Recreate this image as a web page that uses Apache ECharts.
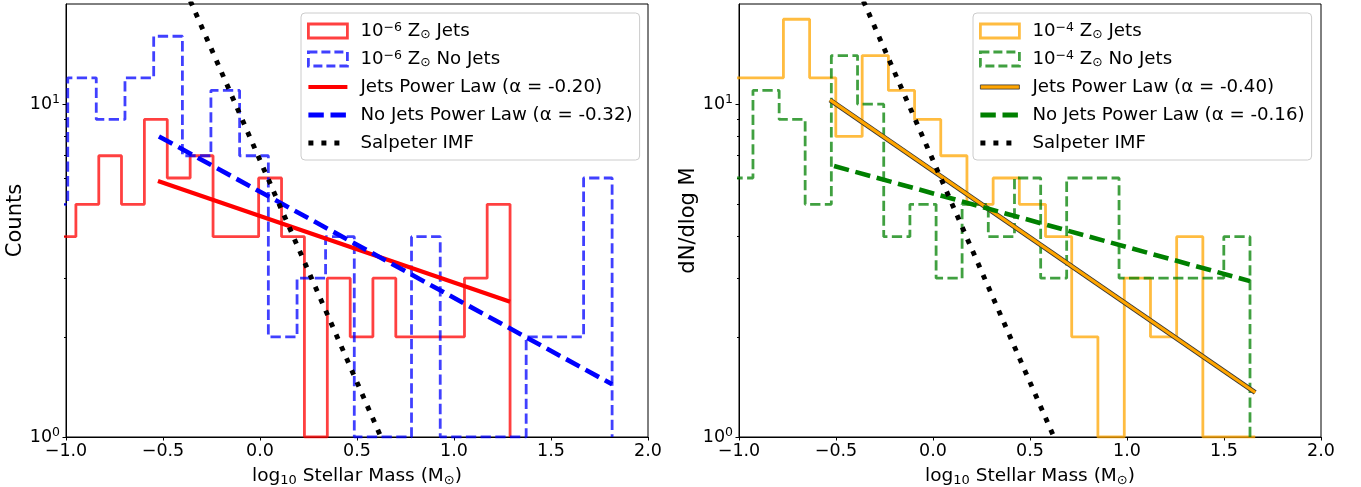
<!DOCTYPE html>
<html>
<head>
<meta charset="utf-8">
<script src="https://cdn.jsdelivr.net/npm/echarts@6/dist/echarts.min.js"></script>
<style>
html, body { margin: 0; padding: 0; background: #fff; }
#chart { width: 1361px; height: 487px; }
</style>
</head>
<body>
<div id="chart"></div>
<script>
// histogram bin edges (log10 M) and counts
const jets6Edges = [-1.067, -0.949, -0.831, -0.714, -0.596, -0.478, -0.360, -0.242, -0.124, -0.007, 0.111,
    0.229, 0.347, 0.465, 0.582, 0.700, 0.818, 0.936, 1.054, 1.171, 1.289];
const jets6Counts = [4, 5, 7, 5, 9, 6, 7, 4, 4, 6, 4, 0, 3, 2, 3, 2, 2, 2, 3, 5];
const noJets6Edges = [-1.139, -0.991, -0.844, -0.696, -0.548, -0.400, -0.253, -0.105, 0.043, 0.191, 0.338,
    0.486, 0.634, 0.781, 0.929, 1.077, 1.225, 1.372, 1.520, 1.668, 1.815];
const noJets6Counts = [5, 12, 9, 12, 16, 7, 11, 7, 2, 3, 4, 0, 0, 4, 0, 0, 0, 2, 2, 6];
const jets4Edges = [-1.041, -0.906, -0.771, -0.636, -0.501, -0.365, -0.230, -0.095, 0.040, 0.175, 0.310,
    0.445, 0.580, 0.715, 0.850, 0.986, 1.121, 1.256, 1.391, 1.526, 1.661];
const jets4Counts = [12, 12, 18, 12, 8, 14, 11, 9, 7, 5, 6, 5, 4, 2, 0, 3, 2, 4, 0, 0];
const noJets4Edges = [-1.063, -0.928, -0.793, -0.659, -0.524, -0.389, -0.254, -0.119, 0.016, 0.150, 0.285,
    0.420, 0.555, 0.689, 0.824, 0.959, 1.094, 1.229, 1.364, 1.499, 1.634];
const noJets4Counts = [6, 11, 9, 5, 14, 10, 4, 5, 3, 5, 4, 6, 3, 6, 6, 3, 3, 3, 3, 4];

// power law fits (end points) and Salpeter reference line
const jets6FitX = [-0.526, 1.289];
const jets6FitY = [5.88, 2.55];
const noJets6FitX = [-0.521, 1.815];
const noJets6FitY = [8.0, 1.44];
const jets4FitX = [-0.531, 1.661];
const jets4FitY = [10.3, 1.36];
const noJets4FitX = [-0.510, 1.634];
const noJets4FitY = [6.52, 2.94];
const salpeterX = [-0.52, 0.70];
const salpeterY = [33.5, 0.79];

const yMajor = [1, 10];
const yMinor = [2, 3, 4, 5, 6, 7, 8, 9];

const FONT = 'DejaVu Sans';
const yMin = 1;

// step outline like matplotlib histtype='step'; empty bins sit on the bottom edge
function outline(edges, counts) {
    let pts = [[edges[0], yMin]];
    counts.forEach(function (c, i) {
        let v = c > 0 ? c : yMin;
        pts.push([edges[i], v]);
        pts.push([edges[i + 1], v]);
    });
    pts.push([edges[edges.length - 1], yMin]);
    return pts;
}

function zip(xs, ys) {
    return xs.map(function (x, i) { return [x, ys[i]]; });
}

function lineSeries(name, data, gi, color, width, type, z) {
    return {
        type: 'line',
        name: name,
        xAxisIndex: gi,
        yAxisIndex: gi * 2,
        data: data,
        symbol: 'none',
        clip: true,
        silent: true,
        z: z,
        itemStyle: { color: color },
        lineStyle: { color: color, width: width, type: type, cap: 'butt' }
    };
}

let chart = echarts.init(document.getElementById('chart'));

const names = {
    j6: '10^-6 Zsun Jets', n6: '10^-6 Zsun No Jets',
    j6f: 'Jets Power Law (α = -0.20)', n6f: 'No Jets Power Law (α = -0.32)',
    j4: '10^-4 Zsun Jets', n4: '10^-4 Zsun No Jets',
    j4f: 'Jets Power Law (α = -0.40)', n4f: 'No Jets Power Law (α = -0.16)',
    sal: 'Salpeter IMF'
};
const richLabels = {};
richLabels[names.j6] = '10{sup|−6} Z{sub|⊙} Jets';
richLabels[names.n6] = '10{sup|−6} Z{sub|⊙} No Jets';
richLabels[names.j4] = '10{sup|−4} Z{sub|⊙} Jets';
richLabels[names.n4] = '10{sup|−4} Z{sub|⊙} No Jets';

const solidIcon = 'path://M0,0H39V4.2H0Z';
const dashIcon = 'path://M0,0H15.4V5H0Z M22.1,0H37.5V5H22.1Z M38.9,2.4H39V2.6H38.9Z';
const dotIcon = 'path://M0,0H5V5H0Z M13,0H18V5H13Z M26,0H31V5H26Z M38.9,2.4H39V2.6H38.9Z';

function legendFor(left, hist1, hist2, fit1, fit2, c1, c2, f1, f2, f1Border) {
    return {
        orient: 'vertical',
        left: left,
        top: 13,
        padding: [8, 7, 7, 6],
        itemGap: 8,
        itemWidth: 39,
        itemHeight: 14,
        backgroundColor: 'rgba(255,255,255,0.8)',
        borderColor: '#cccccc',
        borderWidth: 1,
        borderRadius: 4,
        selectedMode: false,
        formatter: function (n) { return richLabels[n] || n; },
        textStyle: {
            fontFamily: FONT, fontSize: 18.2, color: '#000', lineHeight: 20, padding: [0, 0, 0, 8],
            rich: {
                sup: { fontFamily: FONT, fontSize: 12.5, lineHeight: 11, verticalAlign: 'top', color: '#000' },
                sub: { fontFamily: FONT, fontSize: 12.5, lineHeight: 11, verticalAlign: 'bottom', color: '#000' }
            }
        },
        data: [
            { name: hist1, icon: 'rect', itemStyle: { color: 'rgba(255,255,255,0)', borderColor: c1, borderWidth: 2.8 } },
            { name: hist2, icon: 'rect', itemStyle: { color: 'rgba(255,255,255,0)', borderColor: c2, borderWidth: 2.8, borderType: [9, 4] } },
            { name: fit1, icon: solidIcon, itemStyle: { color: f1, borderColor: f1Border || f1, borderWidth: f1Border ? 0.8 : 0 } },
            { name: fit2, icon: dashIcon, itemStyle: { color: f2, borderWidth: 0 } },
            { name: names.sal, icon: dotIcon, itemStyle: { color: '#000', borderWidth: 0 } }
        ]
    };
}

function xAxisFor(gi) {
    return {
        type: 'value',
        gridIndex: gi,
        min: -1,
        max: 2,
        interval: 0.5,
        name: 'log{sub|10} Stellar Mass (M{sub|⊙})',
        nameLocation: 'middle',
        nameGap: 22,
        nameTextStyle: {
            fontFamily: FONT, fontSize: 18.5, color: '#000', lineHeight: 22,
            rich: { sub: { fontFamily: FONT, fontSize: 13, lineHeight: 12, verticalAlign: 'bottom', color: '#000' } }
        },
        axisLine: { show: true, onZero: false, lineStyle: { color: '#000', width: 1 } },
        axisTick: { show: true, length: 3.5, lineStyle: { color: '#000', width: 1 } },
        axisLabel: {
            fontFamily: FONT, fontSize: 17.5, color: '#000', margin: 5,
            formatter: function (v) { return (v < 0 ? '−' : '') + Math.abs(v).toFixed(1); }
        },
        splitLine: { show: false }
    };
}

function yAxesFor(gi, name, nameGap) {
    return [{
        type: 'log',
        logBase: 10,
        gridIndex: gi,
        min: yMin,
        max: 20,
        position: 'left',
        name: name,
        nameLocation: 'middle',
        nameRotate: 90,
        nameGap: nameGap,
        nameTextStyle: { fontFamily: FONT, fontSize: 21, color: '#000' },
        axisLine: { show: true, onZero: false, lineStyle: { color: '#000', width: 1 } },
        axisTick: { show: true, length: 3.5, customValues: yMajor, lineStyle: { color: '#000', width: 1 } },
        axisLabel: {
            customValues: yMajor,
            fontFamily: FONT, fontSize: 17.5, color: '#000', margin: 6, lineHeight: 22,
            formatter: function (v) { return '10{sup|' + Math.round(Math.log10(v)) + '}'; },
            rich: { sup: { fontFamily: FONT, fontSize: 12.5, lineHeight: 12, verticalAlign: 'top', color: '#000' } }
        },
        splitLine: { show: false }
    }, {
        type: 'log',
        logBase: 10,
        gridIndex: gi,
        min: yMin,
        max: 20,
        position: 'left',
        offset: 0,
        axisLine: { show: false, onZero: false },
        axisTick: { show: true, length: 2, customValues: yMinor, lineStyle: { color: '#000', width: 1 } },
        axisLabel: { show: false },
        splitLine: { show: false }
    }];
}

let option = {
    animation: false,
    backgroundColor: '#fff',
    textStyle: { fontFamily: FONT },
    grid: [
        { left: 66, top: 4, width: 582, height: 433, show: true, borderColor: '#000', borderWidth: 1, backgroundColor: 'transparent', containLabel: false, outerBoundsMode: 'none' },
        { left: 739, top: 4, width: 582, height: 433, show: true, borderColor: '#000', borderWidth: 1, backgroundColor: 'transparent', containLabel: false, outerBoundsMode: 'none' }
    ],
    legend: [
        legendFor(301, names.j6, names.n6, names.j6f, names.n6f,
            'rgba(255,0,0,0.75)', 'rgba(0,0,255,0.75)', '#ff0000', '#0000ff'),
        legendFor(973, names.j4, names.n4, names.j4f, names.n4f,
            'rgba(255,165,0,0.75)', 'rgba(0,128,0,0.75)', '#ffa500', '#008000', '#333')
    ],
    xAxis: [xAxisFor(0), xAxisFor(1)],
    yAxis: yAxesFor(0, 'Counts', 37).concat(yAxesFor(1, 'dN/dlog M', 30)),
    series: [
        // left panel: 1e-6 Zsun
        lineSeries(names.j6, outline(jets6Edges, jets6Counts), 0, 'rgba(255,0,0,0.75)', 2.8, 'solid', 2),
        lineSeries(names.n6, outline(noJets6Edges, noJets6Counts), 0, 'rgba(0,0,255,0.75)', 2.8, [10.3, 4.4], 3),
        lineSeries(names.j6f, zip(jets6FitX, jets6FitY), 0, '#ff0000', 4.2, 'solid', 4),
        lineSeries(names.n6f, zip(noJets6FitX, noJets6FitY), 0, '#0000ff', 4.6, [15.4, 6.7], 5),
        lineSeries(names.sal, zip(salpeterX, salpeterY), 0, '#000000', 4.9, [4.9, 8.1], 6),
        // right panel: 1e-4 Zsun
        lineSeries(names.j4, outline(jets4Edges, jets4Counts), 1, 'rgba(255,165,0,0.75)', 2.8, 'solid', 2),
        lineSeries(names.n4, outline(noJets4Edges, noJets4Counts), 1, 'rgba(0,128,0,0.75)', 2.8, [10.3, 4.4], 3),
        // dark edge under the orange fit
        lineSeries('jets4 fit edge', zip(jets4FitX, jets4FitY), 1, '#333333', 4.8, 'solid', 4),
        lineSeries(names.j4f, zip(jets4FitX, jets4FitY), 1, '#ffa500', 3.2, 'solid', 4),
        lineSeries(names.n4f, zip(noJets4FitX, noJets4FitY), 1, '#008000', 4.6, [15.4, 6.7], 5),
        lineSeries(names.sal, zip(salpeterX, salpeterY), 1, '#000000', 4.9, [4.9, 8.1], 6)
    ]
};

chart.setOption(option);
</script>
</body>
</html>
